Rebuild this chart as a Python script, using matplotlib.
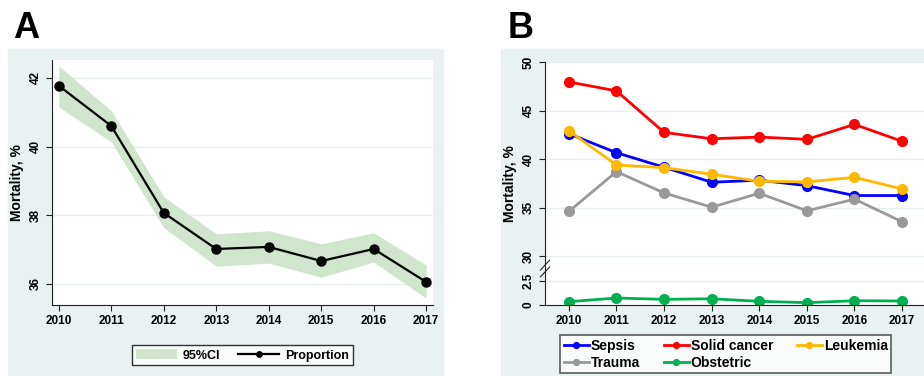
import numpy as np
import matplotlib.pyplot as plt
from matplotlib.patches import Rectangle

plt.rcParams['font.family'] = ['Liberation Sans', 'DejaVu Sans']
plt.rcParams['font.weight'] = 'bold'

years = [2010, 2011, 2012, 2013, 2014, 2015, 2016, 2017]

# panel A
proportion = [41.77, 40.60, 38.07, 37.02, 37.08, 36.67, 37.02, 36.06]
ci_low = [41.15, 40.14, 37.64, 36.52, 36.61, 36.20, 36.64, 35.59]
ci_high = [42.35, 41.04, 38.54, 37.46, 37.55, 37.17, 37.49, 36.55]

# panel B
sepsis = [42.62, 40.67, 39.17, 37.63, 37.84, 37.28, 36.26, 36.26]
solid_cancer = [47.95, 47.03, 42.76, 42.10, 42.28, 42.04, 43.58, 41.84]
leukemia = [42.92, 39.40, 39.13, 38.45, 37.73, 37.66, 38.14, 36.94]
trauma = [34.62, 38.72, 36.53, 35.06, 36.50, 34.69, 35.89, 33.56]
obstetric = [0.34, 0.72, 0.58, 0.64, 0.38, 0.24, 0.44, 0.41]

W, H = 924, 376
bg = '#eaf1f3'
grid_c = '#e6eef0'

fig = plt.figure(figsize=(W / 100, H / 100), dpi=100)


def px_axes(x0, y0, x1, y1):
    return fig.add_axes([x0 / W, 1 - y1 / H, (x1 - x0) / W, (y1 - y0) / H])


fig.patches.append(Rectangle((8 / W, 0), (443 - 8) / W, 1 - 49 / H,
                             transform=fig.transFigure, color=bg, zorder=-5))
fig.patches.append(Rectangle((501 / W, 0), (924 - 501) / W, 1 - 49 / H,
                             transform=fig.transFigure, color=bg, zorder=-5))

fig.text(13 / W, 1 - 38 / H, 'A', fontsize=26, fontweight='bold')
fig.text(508 / W, 1 - 38 / H, 'B', fontsize=26, fontweight='bold')


def style(ax):
    for s in ['top', 'right']:
        ax.spines[s].set_visible(False)
    ax.spines['left'].set_color('#222222')
    ax.spines['bottom'].set_color('#222222')
    ax.tick_params(axis='both', direction='out', length=4, width=0.8,
                   labelsize=8.5, color='#222222')
    ax.set_xticks(years)
    ax.set_xticklabels([str(y) for y in years], fontweight='bold')
    ax.grid(axis='y', color=grid_c, linewidth=1)
    ax.set_axisbelow(True)


# ---- A
axA = px_axes(52, 60, 433, 305)
style(axA)
axA.fill_between(years, ci_low, ci_high, color='#cfe5cc', linewidth=0, label='95%CI')
axA.plot(years, proportion, color='black', lw=1.6, marker='o', ms=6.5, label='Proportion')
axA.set_xlim(2009.87, 2017.13)
axA.set_ylim(35.39, 42.52)
axA.set_yticks([36, 38, 40, 42])
axA.set_yticklabels(['36', '38', '40', '42'], rotation=90, va='center', fontweight='bold')
axA.set_ylabel('Mortality, %', fontsize=10, fontweight='bold', labelpad=4)
legA = axA.legend(loc='upper center', bbox_to_anchor=(0.5, -0.139), ncol=2, fontsize=9,
                  frameon=True, fancybox=False, edgecolor='black', handlelength=3.3,
                  handletextpad=0.5, columnspacing=1.4, borderpad=0.3, handleheight=0.9,
                  markerscale=0.6)
legA.get_frame().set_linewidth(1.0)
for t in legA.get_texts():
    t.set_fontweight('bold')

# ---- B  (values above the break are shifted down by 25 on the drawn scale)
axB = px_axes(545, 62, 924, 305)
style(axB)
shift = 25
series = [('Sepsis', sepsis, '#0000ff'), ('Trauma', trauma, '#999999'),
          ('Solid cancer', solid_cancer, '#ff0000'), ('Obstetric', obstetric, '#00b050'),
          ('Leukemia', leukemia, '#ffb800')]
for name, vals, col in series:
    v = np.array(vals)
    if name != 'Obstetric':
        v = v - shift
    axB.plot(years, v, color=col, lw=2, marker='o', ms=7, label=name)
axB.set_xlim(2009.5, 2017.46)
axB.set_ylim(0, 24.9)
axB.set_yticks([0, 2.5, 5, 10, 15, 20, 25])
axB.set_yticklabels(['0', '2.5', '30', '35', '40', '45', '50'], rotation=90,
                    va='center', fontweight='bold')
axB.set_ylabel('Mortality, %', fontsize=10, fontweight='bold', labelpad=4)
# break mark on the y axis
for dy in (-0.35, 0.35):
    axB.plot([-0.012, 0.012], [3.75 + dy - 0.5, 3.75 + dy + 0.5], color='#222222', lw=0.8,
             transform=axB.get_yaxis_transform(), clip_on=False)
legB = axB.legend(loc='upper left', bbox_to_anchor=(0.022, -0.095), ncol=3, fontsize=10,
                  frameon=True, fancybox=False, edgecolor='#333333', handlelength=1.8,
                  handletextpad=0.15, columnspacing=1.7, borderpad=0.25, labelspacing=0.25,
                  markerscale=0.6)
legB.get_frame().set_linewidth(1.2)
for t in legB.get_texts():
    t.set_fontweight('bold')

fig.savefig('out.png', dpi=100)
